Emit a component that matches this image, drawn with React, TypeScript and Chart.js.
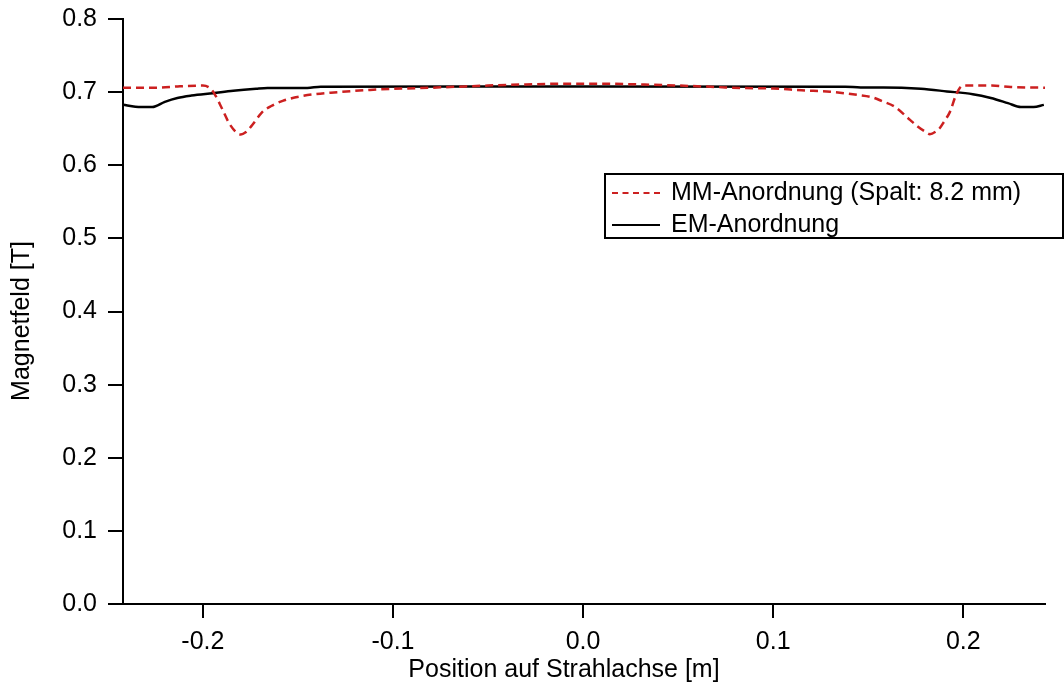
import React, { useEffect, useRef } from "react";
import { Chart, registerables } from "chart.js";

Chart.register(...registerables);

// Position on beam axis [m]
const mmX = [
  -0.242, -0.225, -0.212, -0.2, -0.196, -0.1935, -0.19, -0.1856, -0.18, -0.1775, -0.174, -0.169,
  -0.164, -0.158, -0.147, -0.129, -0.112, -0.1, -0.086, -0.07, -0.05, -0.03, -0.01, 0.01, 0.03,
  0.05, 0.07, 0.085, 0.1, 0.115, 0.13, 0.145, 0.152, 0.157, 0.164, 0.172, 0.176, 0.18, 0.1824,
  0.1855, 0.1877, 0.19, 0.193, 0.196, 0.198, 0.2, 0.215, 0.225, 0.243,
];
const mmY = [
  0.706, 0.706, 0.708, 0.709, 0.705, 0.696, 0.678, 0.655, 0.642, 0.645, 0.655, 0.672,
  0.681, 0.688, 0.695, 0.7, 0.703, 0.7045, 0.7055, 0.707, 0.709, 0.7105, 0.7115, 0.7115, 0.7105,
  0.709, 0.707, 0.7055, 0.705, 0.7025, 0.7005, 0.696, 0.693, 0.688, 0.68, 0.662, 0.653, 0.646, 0.6425,
  0.646, 0.651, 0.66, 0.673, 0.695, 0.705, 0.709, 0.709, 0.707, 0.706,
];

const emX = [
  -0.2418, -0.2355, -0.2266, -0.22, -0.2134, -0.206, -0.1946, -0.184, -0.172, -0.166, -0.145,
  -0.138, 0.0, 0.138, 0.146, 0.158, 0.1777, 0.1914, 0.205, 0.2145, 0.2235, 0.2303, 0.237, 0.2424,
];
const emY = [
  0.6826, 0.68, 0.6795, 0.6867, 0.692, 0.6953, 0.6986, 0.7018, 0.7045, 0.7055, 0.7058,
  0.7075, 0.7077, 0.7075, 0.7063, 0.7063, 0.7045, 0.701, 0.6972, 0.692, 0.685, 0.6795, 0.6795, 0.6826,
];

const xTicks = [-0.2, -0.1, 0.0, 0.1, 0.2];
const yTicks = [0.0, 0.1, 0.2, 0.3, 0.4, 0.5, 0.6, 0.7, 0.8];

const seriesLabels = ["MM-Anordnung (Spalt: 8.2 mm)", "EM-Anordnung"];
const xTitle = "Position auf Strahlachse [m]";
const yTitle = "Magnetfeld [T]";

const FONT = "'Liberation Sans', Arial, sans-serif";
const FS = 25;
const RED = "rgb(204,32,32)";

const decorPlugin = {
  id: "decor",
  afterDraw(chart: any) {
    const ctx = chart.ctx as CanvasRenderingContext2D;
    const ca = chart.chartArea;
    ctx.save();
    // axis titles
    ctx.fillStyle = "#000";
    ctx.font = FS + "px " + FONT;
    ctx.textAlign = "center";
    ctx.textBaseline = "middle";
    ctx.fillText(xTitle, ca.left + 441, 670);
    ctx.save();
    ctx.translate(22, ca.top + 302);
    ctx.rotate(-Math.PI / 2);
    ctx.fillText(yTitle, 0, 0);
    ctx.restore();

    // legend box
    const left = ca.left + 482;
    const top = 174;
    const right = 1063;
    const bottom = 238;
    ctx.fillStyle = "#fff";
    ctx.fillRect(left, top, right - left, bottom - top);
    ctx.strokeStyle = "#000";
    ctx.lineWidth = 2;
    ctx.setLineDash([]);
    ctx.strokeRect(left, top, right - left, bottom - top);
    const rows = [193, 225];
    chart.data.datasets.forEach((ds: any, i: number) => {
      const y = rows[i];
      ctx.beginPath();
      ctx.strokeStyle = ds.borderColor;
      ctx.lineWidth = 2;
      ctx.setLineDash(ds.borderDash ? [6, 4.5] : []);
      ctx.moveTo(left + 7, y);
      ctx.lineTo(left + 55, y);
      ctx.stroke();
      ctx.setLineDash([]);
      ctx.fillStyle = "#000";
      ctx.font = FS + "px " + FONT;
      ctx.textBaseline = "middle";
      ctx.textAlign = "left";
      ctx.fillText(ds.label, left + 66, y);
    });
    ctx.restore();
  },
};

export default function App() {
  const ref = useRef<HTMLCanvasElement | null>(null);
  useEffect(() => {
    document.body.style.margin = "0";
    const canvas = ref.current!;
    const chart = new Chart(canvas, {
      type: "line",
      data: {
        datasets: [
          {
            label: seriesLabels[0],
            data: mmX.map((x, i) => ({ x, y: mmY[i] })),
            borderColor: RED,
            borderWidth: 2.5,
            borderDash: [8, 5],
            pointRadius: 0,
            cubicInterpolationMode: "monotone",
            fill: false,
          },
          {
            label: seriesLabels[1],
            data: emX.map((x, i) => ({ x, y: emY[i] })),
            borderColor: "#000",
            borderWidth: 2.5,
            pointRadius: 0,
            cubicInterpolationMode: "monotone",
            fill: false,
          },
        ],
      },
      options: {
        responsive: false,
        animation: false,
        layout: { padding: { left: 0, right: 19, top: 19, bottom: 0 } },
        plugins: {
          legend: { display: false },
          tooltip: { enabled: false },
        },
        scales: {
          x: {
            type: "linear",
            min: -0.242,
            max: 0.243,
            afterBuildTicks: (s: any) => {
              s.ticks = xTicks.map((v) => ({ value: v }));
            },
            afterFit: (s: any) => {
              s.height = 84;
              s.paddingLeft = 0;
              s.paddingRight = 0;
            },
            ticks: {
              color: "#000",
              font: { family: FONT, size: FS },
              padding: 9,
              maxRotation: 0,
              callback: (v: any) => Number(v).toFixed(1),
            },
            grid: {
              drawOnChartArea: false,
              drawTicks: true,
              tickLength: 14,
              color: "#000",
              lineWidth: 2,
            },
            border: { display: true, color: "#000", width: 2 },
          },
          y: {
            type: "linear",
            min: 0,
            max: 0.8,
            afterBuildTicks: (s: any) => {
              s.ticks = yTicks.map((v) => ({ value: v }));
            },
            afterFit: (s: any) => {
              s.width = 123;
              s.paddingTop = 0;
              s.paddingBottom = 0;
            },
            ticks: {
              color: "#000",
              font: { family: FONT, size: FS },
              padding: 11,
              callback: (v: any) => Number(v).toFixed(1),
            },
            grid: {
              drawOnChartArea: false,
              drawTicks: true,
              tickLength: 15,
              color: "#000",
              lineWidth: 2,
            },
            border: { display: true, color: "#000", width: 2 },
          },
        },
      },
      plugins: [decorPlugin],
    });
    return () => chart.destroy();
  }, []);
  return (
    <div style={{ width: 1064, height: 688 }}>
      <canvas ref={ref} width={1064} height={688} style={{ display: "block" }} />
    </div>
  );
}
